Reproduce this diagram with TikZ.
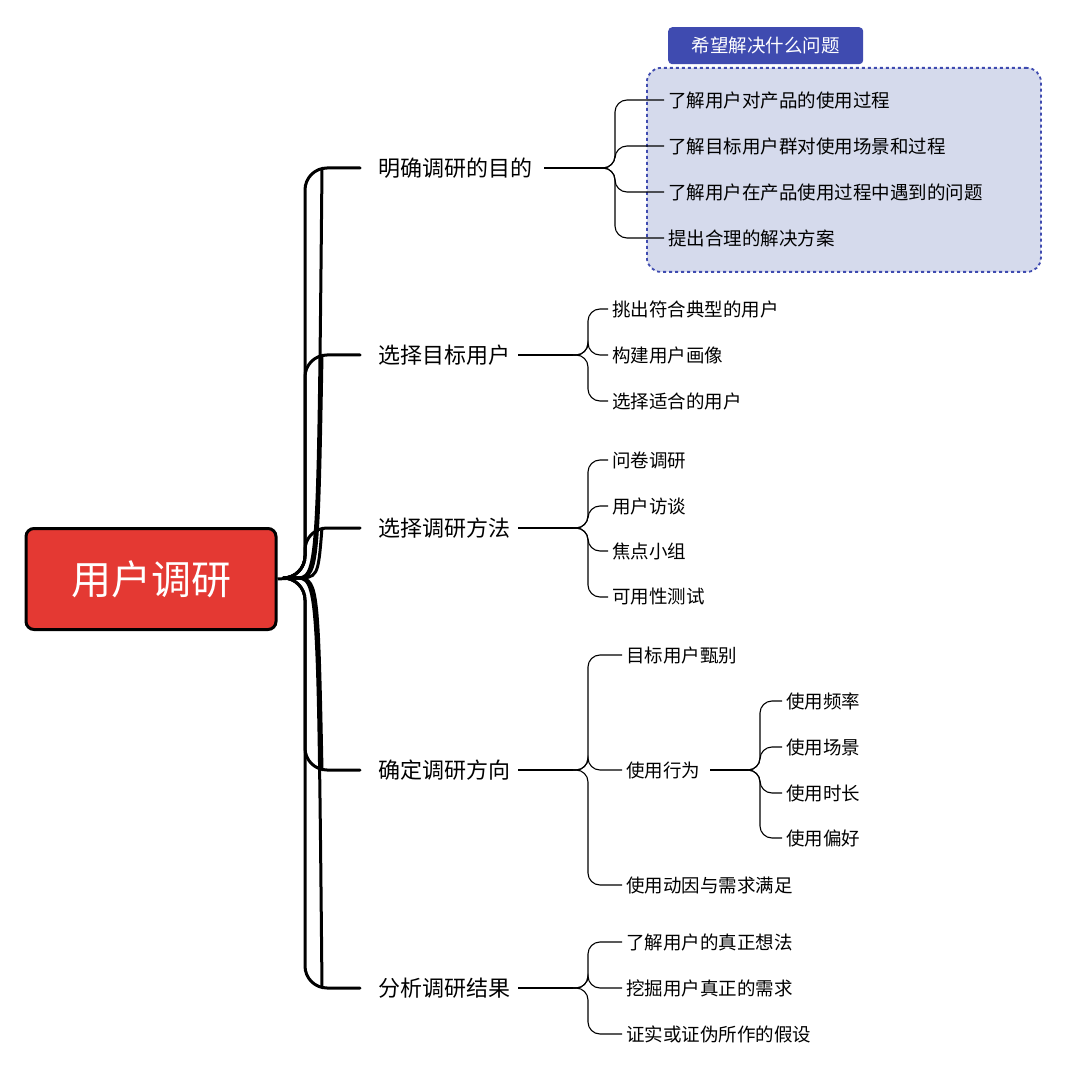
\documentclass[tikz,border=0pt]{standalone}
\usepackage{fontspec}
\setmainfont{Noto Sans CJK SC}
\begin{document}
\begin{tikzpicture}[x=1pt,y=-1pt,
  br/.style={anchor=west,font=\fontsize{22}{24}\selectfont,inner sep=0pt},
  lf/.style={anchor=west,font=\fontsize{18.5}{20}\selectfont,inner xsep=4pt,inner ysep=0pt},
  thick line/.style={line width=3pt,rounded corners=22pt,line cap=round},
  thin line/.style={line width=1.1pt,rounded corners=12pt}]
\useasboundingbox (0,0) rectangle (1080,1078);
% purpose box
\node[draw=blue!50!black!80,fill={rgb,255:red,213;green,218;blue,236},draw={rgb,255:red,63;green,75;blue,176},dashed,line width=1.8pt,rounded corners=14pt,minimum width=394,minimum height=204,anchor=north west] (pbox) at (646,67) {};
\node[fill={rgb,255:red,63;green,75;blue,176},text=white,rounded corners=4pt,minimum width=195,minimum height=37,anchor=north west,font=\fontsize{18.5}{20}\selectfont] (tab) at (668,27) {希望解决什么问题};
% root
\node[draw=black,line width=3pt,fill={rgb,255:red,228;green,57;blue,51},rounded corners=8pt,minimum width=250,minimum height=101,text=white,font=\fontsize{40}{44}\selectfont] (root) at (151,579) {用户调研};
\coordinate (rj) at (295,578);
\draw[line width=3pt] (root.east) -- (rj);
% branches
\node[br] (b1) at (378,168) {明确调研的目的};
\node[br] (b2) at (378,355) {选择目标用户};
\node[br] (b3) at (378,528) {选择调研方法};
\node[br] (b4) at (378,770) {确定调研方向};
\node[br] (b5) at (378,988) {分析调研结果};
\foreach \b in {b1,b2,b3,b4,b5}{
  \draw[line width=3pt] (rj) .. controls (318,578) and (318,578) .. (322,560|-\b.west);
}
\draw[thick line] (rj) -- (305,578) |- ([xshift=-18pt]b1.west);
\draw[thick line] (rj) -- (305,578) |- ([xshift=-18pt]b2.west);
\draw[thick line] (rj) -- (305,578) |- ([xshift=-18pt]b3.west);
\draw[thick line] (rj) -- (305,578) |- ([xshift=-18pt]b4.west);
\draw[thick line] (rj) -- (305,578) |- ([xshift=-18pt]b5.west);
% group 1
\node[lf] (l11) at (664,100) {了解用户对产品的使用过程};
\node[lf] (l12) at (664,146) {了解目标用户群对使用场景和过程};
\node[lf] (l13) at (664,192) {了解用户在产品使用过程中遇到的问题};
\node[lf] (l14) at (664,238) {提出合理的解决方案};
\coordinate (j1) at (600,168);
\draw[thin line] ([xshift=12pt]b1.east) -- (j1);
\foreach \l in {l11,l12,l13,l14}{\draw[thin line] (j1) -- (615,168) |- (\l.west);}
% group 2
\node[lf] (l21) at (608,309) {挑出符合典型的用户};
\node[lf] (l22) at (608,355) {构建用户画像};
\node[lf] (l23) at (608,401) {选择适合的用户};
\coordinate (j2) at (573,355);
\draw[thin line] ([xshift=8pt]b2.east) -- (j2);
\foreach \l in {l21,l22,l23}{\draw[thin line] (j2) -- (588,355) |- (\l.west);}
% group 3
\node[lf] (l31) at (608,460) {问卷调研};
\node[lf] (l32) at (608,506) {用户访谈};
\node[lf] (l33) at (608,551) {焦点小组};
\node[lf] (l34) at (608,597) {可用性测试};
\coordinate (j3) at (573,528);
\draw[thin line] ([xshift=8pt]b3.east) -- (j3);
\foreach \l in {l31,l32,l33,l34}{\draw[thin line] (j3) -- (588,528) |- (\l.west);}
% group 4
\node[lf] (l41) at (622,655) {目标用户甄别};
\node[lf] (l42) at (622,770) {使用行为};
\node[lf] (l43) at (622,885) {使用动因与需求满足};
\coordinate (j4) at (573,770);
\draw[thin line] ([xshift=8pt]b4.east) -- (j4);
\foreach \l in {l41,l42,l43}{\draw[thin line] (j4) -- (588,770) |- (\l.west);}
\node[lf] (m1) at (782,701) {使用频率};
\node[lf] (m2) at (782,747) {使用场景};
\node[lf] (m3) at (782,793) {使用时长};
\node[lf] (m4) at (782,838) {使用偏好};
\coordinate (j6) at (748,770);
\draw[thin line] ([xshift=6pt]l42.east) -- (j6);
\foreach \l in {m1,m2,m3,m4}{\draw[thin line] (j6) -- (760,770) |- (\l.west);}
% group 5
\node[lf] (l51) at (622,942) {了解用户的真正想法};
\node[lf] (l52) at (622,988) {挖掘用户真正的需求};
\node[lf] (l53) at (622,1034) {证实或证伪所作的假设};
\coordinate (j5) at (573,988);
\draw[thin line] ([xshift=8pt]b5.east) -- (j5);
\foreach \l in {l51,l52,l53}{\draw[thin line] (j5) -- (588,988) |- (\l.west);}
\end{tikzpicture}
\end{document}
